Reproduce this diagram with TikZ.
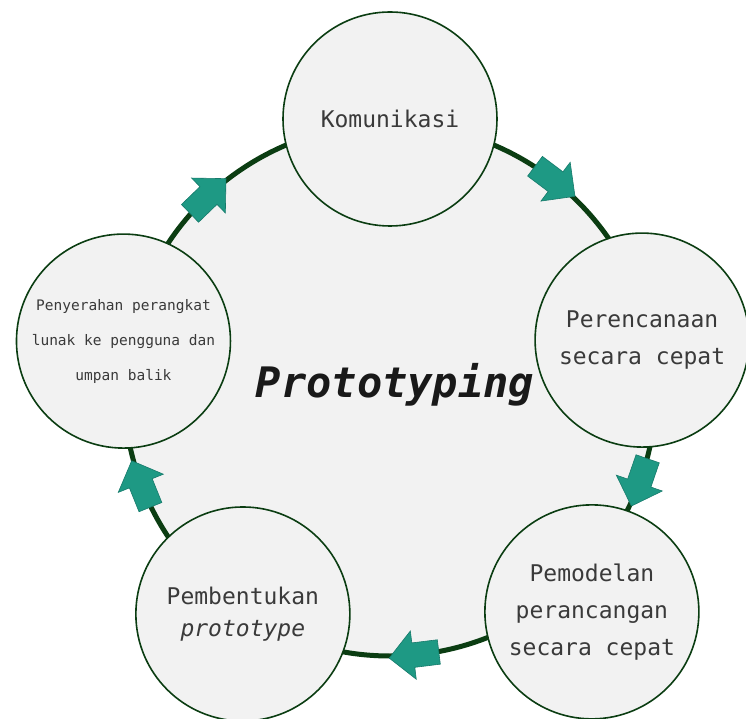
\documentclass[tikz,border=0pt]{standalone}
\usepackage{fontspec}
\newfontfamily\monofont{DejaVu Sans Mono}
\usetikzlibrary{shapes.arrows}
\definecolor{ringgreen}{HTML}{0B3D12}
\definecolor{phasefill}{HTML}{F2F2F2}
\definecolor{flowteal}{HTML}{1E9984}
\definecolor{flowedge}{HTML}{167A6B}
\definecolor{labelgray}{HTML}{3A3A3A}

\begin{document}
\begin{tikzpicture}[x=1pt,y=1pt,
    phase/.style={circle,draw=ringgreen,line width=1.6pt,fill=phasefill,
      minimum size=214pt,inner sep=0pt,align=center,text=labelgray,
      font=\monofont\fontsize{23}{37}\selectfont},
    flow/.style={single arrow,fill=flowteal,draw=flowedge,line width=0.6pt,
      minimum height=50pt,inner sep=12pt,single arrow head extend=12pt}]
      \useasboundingbox (-390,-329) rectangle (356,390);
      \node (ring) [circle,draw=ringgreen,line width=5pt,fill=phasefill,
        minimum size=532pt,inner sep=0pt] at (0,0) {};
      \node (title) [anchor=base,text=black!90,
        font=\monofont\bfseries\itshape\fontsize{42}{48}\selectfont]
        at (5,-8) {Prototyping};
      \node[flow,rotate=-37] (f1) at (53:266) {};
      \node[flow,rotate=-109] (f2) at (-19:266) {};
      \node[flow,rotate=-173] (f3) at (-83.5:266) {};
      \node[flow,rotate=112] (f4) at (202:266) {};
      \node[flow,rotate=44] (f5) at (134.5:266) {};
      \draw
        (90:271) node[phase] (kom){Komunikasi}
        (11.2:257) node[phase] (ren){Perencanaan\\secara cepat}
        (-47.7:300) node[phase] (mod){Pemodelan\\perancangan\\secara cepat}
        (236.7:268) node[phase,font=\monofont\fontsize{23}{32}\selectfont] (ben){Pembentukan\\\textit{prototype}}
        (169.6:271) node[phase,font=\monofont\fontsize{14.5}{35}\selectfont] (pen){Penyerahan perangkat\\lunak ke pengguna dan\\umpan balik};
    \end{tikzpicture}
\end{document}
